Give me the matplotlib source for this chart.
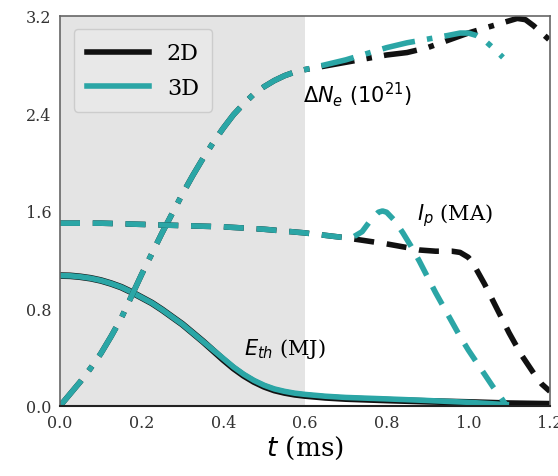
import matplotlib
matplotlib.use("Agg")
import matplotlib.pyplot as plt

# thermal energy (MJ)
t_eth = [0, 0.025, 0.05, 0.075, 0.1, 0.125, 0.15, 0.175, 0.2, 0.225, 0.25, 0.275, 0.3,
         0.325, 0.35, 0.375, 0.4, 0.425, 0.45, 0.475, 0.5, 0.525, 0.55, 0.575, 0.6,
         0.65, 0.7, 0.8, 0.9, 1.0, 1.1, 1.2]
eth_2d = [1.07, 1.068, 1.06, 1.048, 1.03, 1.005, 0.975, 0.935, 0.89, 0.845, 0.79, 0.73, 0.67,
          0.6, 0.53, 0.455, 0.38, 0.31, 0.25, 0.2, 0.16, 0.13, 0.11, 0.095, 0.085,
          0.07, 0.06, 0.048, 0.038, 0.03, 0.02, 0.015]
t_eth3 = t_eth[:-1]
eth_3d = [1.07, 1.068, 1.06, 1.048, 1.03, 1.005, 0.975, 0.935, 0.89, 0.845, 0.79, 0.73, 0.67,
          0.6, 0.53, 0.46, 0.39, 0.32, 0.26, 0.21, 0.17, 0.14, 0.12, 0.105, 0.095,
          0.08, 0.07, 0.058, 0.045, 0.03, 0.01]

# injected electrons (1e21)
t_ne_early = [0, 0.025, 0.05, 0.075, 0.1, 0.125, 0.15, 0.175, 0.2, 0.225, 0.25, 0.275, 0.3,
              0.325, 0.35, 0.375, 0.4, 0.425, 0.45, 0.475, 0.5, 0.525, 0.55, 0.575, 0.6]
ne_early = [0, 0.1, 0.2, 0.31, 0.43, 0.57, 0.72, 0.9, 1.08, 1.25, 1.42, 1.58, 1.74,
            1.89, 2.03, 2.16, 2.28, 2.39, 2.48, 2.56, 2.62, 2.67, 2.71, 2.74, 2.76]
t_ne2 = t_ne_early + [0.65, 0.7, 0.75, 0.8, 0.85, 0.9, 0.95, 1.0, 1.05, 1.08, 1.1, 1.12,
                      1.14, 1.16, 1.18, 1.2]
ne_2d = ne_early + [2.79, 2.82, 2.85, 2.88, 2.9, 2.94, 3.0, 3.06, 3.11, 3.14, 3.16, 3.18,
                    3.17, 3.12, 3.06, 3.0]
t_ne3 = t_ne_early + [0.65, 0.7, 0.75, 0.8, 0.85, 0.9, 0.95, 0.98, 1.0, 1.02, 1.04, 1.06,
                      1.085]
ne_3d = ne_early + [2.8, 2.84, 2.89, 2.94, 2.98, 3.01, 3.04, 3.06, 3.06, 3.04, 3.0, 2.94,
                    2.86]

# plasma current (MA)
t_ip_early = [0, 0.1, 0.2, 0.3, 0.4, 0.5, 0.6, 0.7]
ip_early = [1.5, 1.5, 1.49, 1.48, 1.47, 1.45, 1.42, 1.38]
t_ip2 = t_ip_early + [0.8, 0.85, 0.88, 0.92, 0.96, 0.98, 1.0, 1.01, 1.02, 1.04, 1.07, 1.1,
                      1.13, 1.16, 1.18, 1.2]
ip_2d = ip_early + [1.33, 1.3, 1.28, 1.27, 1.27, 1.26, 1.22, 1.18, 1.12, 1.0, 0.8, 0.6,
                    0.42, 0.27, 0.18, 0.12]
t_ip3 = t_ip_early + [0.72, 0.74, 0.76, 0.78, 0.79, 0.8, 0.82, 0.84, 0.86, 0.88, 0.9, 0.92,
                      0.94, 0.96, 0.98, 1.0, 1.02, 1.04, 1.06, 1.08, 1.09]
ip_3d = ip_early + [1.39, 1.43, 1.52, 1.59, 1.6, 1.59, 1.52, 1.42, 1.31, 1.19, 1.06, 0.93,
                    0.81, 0.69, 0.57, 0.46, 0.36, 0.26, 0.16, 0.07, 0.02]

black = "#111111"
teal = "#2ba6a6"
lw = 4
dash = (3.6, 2.3)
dashdot = (6, 2.2, 1, 2.2)

plt.rcParams["font.family"] = "DejaVu Serif"
plt.rcParams["mathtext.fontset"] = "dejavusans"

fig = plt.figure(figsize=(5.58, 4.77), dpi=100)
ax = fig.add_axes([0.1075, 0.1468, 0.878, 0.8176])

ax.axvspan(0, 0.6, color="#e4e4e4", lw=0, zorder=0)

ax.plot(t_eth, eth_2d, color=black, lw=lw + 0.8, solid_capstyle="butt")
ax.plot(t_eth3, eth_3d, color=teal, lw=lw, solid_capstyle="butt")
ax.plot(t_ne2, ne_2d, color=black, lw=lw, dashes=dashdot)
ax.plot(t_ne3, ne_3d, color=teal, lw=lw, dashes=dashdot)
ax.plot(t_ip2, ip_2d, color=black, lw=lw, dashes=dash)
ax.plot(t_ip3, ip_3d, color=teal, lw=lw, dashes=dash)

# legend handles
ax.plot([], [], color=black, lw=lw, label="2D")
ax.plot([], [], color=teal, lw=lw, label="3D")
handles, labels = ax.get_legend_handles_labels()
ax.legend(handles, labels, loc="upper left", fontsize=16, frameon=True,
          facecolor="#e8e8e8", edgecolor="#cccccc", framealpha=1,
          handlelength=2.8, borderpad=0.6, labelspacing=0.55,
          bbox_to_anchor=(0.005, 0.995))

ax.text(0.595, 2.5, r"$\Delta N_e$ $(10^{21})$", fontsize=15)
ax.text(0.875, 1.53, r"$I_p$ (MA)", fontsize=15)
ax.text(0.45, 0.43, r"$E_{th}$ (MJ)", fontsize=15)

ax.set_xlim(0, 1.2)
ax.set_ylim(0, 3.2)
ax.set_xticks([0.0, 0.2, 0.4, 0.6, 0.8, 1.0, 1.2])
ax.set_yticks([0.0, 0.8, 1.6, 2.4, 3.2])
ax.set_xticklabels(["0.0", "0.2", "0.4", "0.6", "0.8", "1.0", "1.2"])
ax.set_yticklabels(["0.0", "0.8", "1.6", "2.4", "3.2"])
ax.tick_params(length=0, labelsize=11.5, colors="#333333", pad=6)
ax.set_xlabel(r"$t$ (ms)", fontsize=19, labelpad=2)

for s in ["top", "left", "right"]:
    ax.spines[s].set_color("#666666")
    ax.spines[s].set_linewidth(1.2)
ax.spines["bottom"].set_color("#222222")
ax.spines["bottom"].set_linewidth(1.5)

fig.savefig("out.png", dpi=100)
